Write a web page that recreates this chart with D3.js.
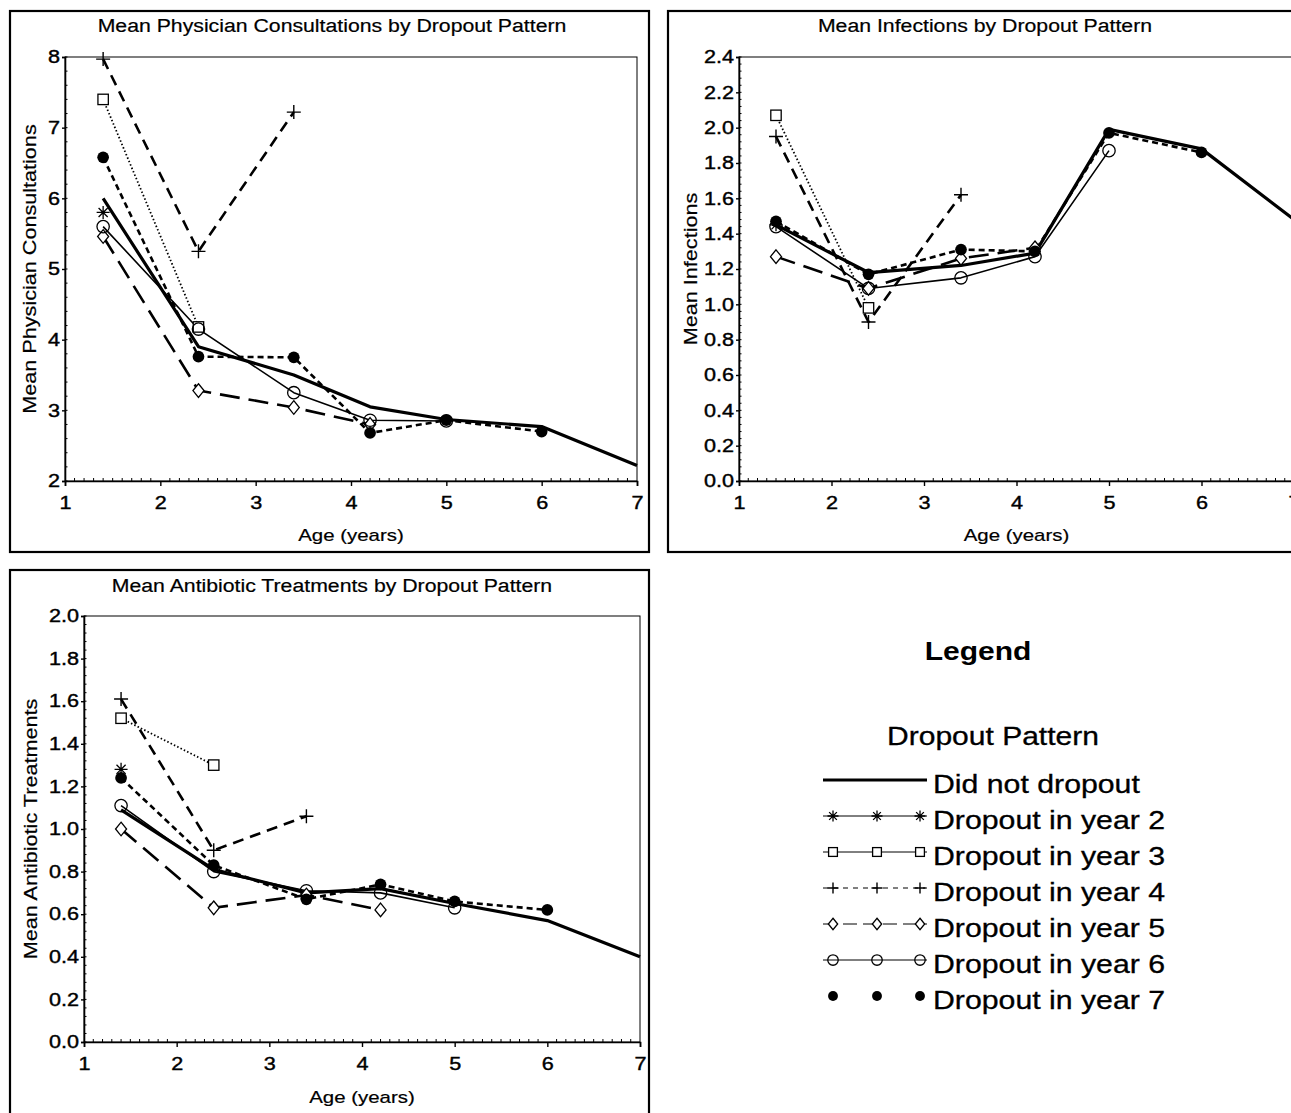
<!DOCTYPE html>
<html lang="en">
<head>
  <meta charset="UTF-8">
  <title>Means by Dropout Pattern</title>
  <script src="https://d3js.org/d3.v7.min.js"></script>
  <style>
    body { margin: 0; background: #fff; }
    svg { display: block; font-family: "Liberation Sans", Arial, sans-serif; }
    text { fill: #000; }
  </style>
</head>
<body>
  <div id="chart"></div>
  <script>
    // visit ages (years); a group that drops out in year k has k-1 visits
    const ages = [1.4, 2.4, 3.4, 4.2, 5, 6, 7];
    const patterns = ["Did not dropout", "Dropout in year 2", "Dropout in year 3",
      "Dropout in year 4", "Dropout in year 5", "Dropout in year 6", "Dropout in year 7"];

    const consultations = [
      [6.0, 3.9, 3.5, 3.05, 2.87, 2.77, 2.22],
      [5.8],
      [7.4, 4.18],
      [7.97, 5.25, 7.22],
      [5.46, 3.28, 3.04, 2.8],
      [5.6, 4.15, 3.25, 2.86, 2.85],
      [6.58, 3.76, 3.75, 2.68, 2.86, 2.7]
    ];
    const infections = [
      [1.45, 1.18, 1.22, 1.29, 1.99, 1.88, 1.48],
      [1.45],
      [2.07, 0.98],
      [1.95, 0.9, 1.62],
      [1.27, 1.09, 1.26, 1.32],
      [1.44, 1.09, 1.15, 1.27, 1.87],
      [1.47, 1.17, 1.31, 1.3, 1.97, 1.86]
    ];
    const antibiotics = [
      [1.09, 0.81, 0.7, 0.72, 0.65, 0.57, 0.4],
      [1.28],
      [1.52, 1.3],
      [1.61, 0.9, 1.06],
      [1.0, 0.63, 0.69, 0.62],
      [1.11, 0.8, 0.71, 0.7, 0.63],
      [1.24, 0.83, 0.67, 0.74, 0.66, 0.62]
    ];

    const xTicks = [1, 2, 3, 4, 5, 6, 7];
    const consultTicks = [2, 3, 4, 5, 6, 7, 8];
    const infectTicks = [0, 0.2, 0.4, 0.6, 0.8, 1.0, 1.2, 1.4, 1.6, 1.8, 2.0, 2.2, 2.4];
    const antibioticTicks = [0, 0.2, 0.4, 0.6, 0.8, 1.0, 1.2, 1.4, 1.6, 1.8, 2.0];

    const W = 1291, H = 1113;
    const K = 1.2; // glyphs in the scan are wider than Arial

    // line style + marker per dropout pattern
    const styles = [
      { dash: null, width: 3.2, marker: null },
      { dash: null, width: 1.2, marker: "asterisk" },
      { dash: "1.5,2.2", width: 1.8, marker: "square" },
      { dash: "11,7", width: 2.6, marker: "plus" },
      { dash: "20,9", width: 2.6, marker: "diamond" },
      { dash: null, width: 1.6, marker: "circle" },
      { dash: "6,4", width: 2.6, marker: "dot" }
    ];
    const legendStyles = [
      { dash: null, width: 3.2 },
      { dash: null, width: 1 },
      { dash: null, width: 1 },
      { dash: "5,5", width: 1 },
      { dash: "14,6", width: 1 },
      { dash: null, width: 1 },
      { dash: null, width: 0 }
    ];

    const svg = d3.select("#chart").append("svg")
      .attr("width", W)
      .attr("height", H);

    function stretch(sel, k) {
      sel.each(function () {
        const w = this.getComputedTextLength();
        this.setAttribute("textLength", w * k);
        this.setAttribute("lengthAdjust", "spacingAndGlyphs");
      });
    }

    function drawMarker(g, type, cx, cy, s) {
      const m = g.append("g").attr("transform", `translate(${cx},${cy})`)
        .attr("fill", "none").attr("stroke", "#000").attr("stroke-width", 1.3);
      if (type === "asterisk") {
        m.append("path").attr("d", `M${-s},0H${s}M0,${-s}V${s}M${-s * 0.7},${-s * 0.7}L${s * 0.7},${s * 0.7}M${-s * 0.7},${s * 0.7}L${s * 0.7},${-s * 0.7}`);
      } else if (type === "square") {
        m.append("rect").attr("x", -s * 0.8).attr("y", -s * 0.8).attr("width", s * 1.6).attr("height", s * 1.6).attr("fill", "#fff");
      } else if (type === "plus") {
        m.append("path").attr("d", `M${-s},0H${s}M0,${-s}V${s}`).attr("stroke-width", 1.4);
      } else if (type === "diamond") {
        m.append("path").attr("d", `M0,${-s * 1.05}L${s * 0.85},0L0,${s * 1.05}L${-s * 0.85},0Z`).attr("fill", "#fff");
      } else if (type === "circle") {
        m.append("circle").attr("r", s * 0.95).attr("fill", "none");
      } else if (type === "dot") {
        m.append("circle").attr("r", s * 0.9).attr("fill", "#000").attr("stroke", "none");
      }
    }

    const panels = [
      {
        title: "Mean Physician Consultations by Dropout Pattern",
        ylabel: "Mean Physician Consultations",
        values: consultations, yDomain: [2, 8], yTicks: consultTicks, fmt: d3.format("d"),
        frame: [10, 11, 639, 541], plot: [65, 637, 57, 481],
        titleX: 332, titleY: 32, ylabX: 36, xlabY: 541
      },
      {
        title: "Mean Infections by Dropout Pattern",
        ylabel: "Mean Infections",
        values: infections, yDomain: [0, 2.4], yTicks: infectTicks, fmt: d3.format(".1f"),
        frame: [668, 11, 640, 541], plot: [739, 1294, 57, 481],
        titleX: 985, titleY: 32, ylabX: 697, xlabY: 541
      },
      {
        title: "Mean Antibiotic Treatments by Dropout Pattern",
        ylabel: "Mean Antibiotic Treatments",
        values: antibiotics, yDomain: [0, 2], yTicks: antibioticTicks, fmt: d3.format(".1f"),
        frame: [10, 570, 639, 560], plot: [84, 640, 616, 1042],
        titleX: 332, titleY: 592, ylabX: 37, xlabY: 1103
      }
    ];

    panels.forEach(p => {
      const [l, r, t, b] = p.plot;
      const x = d3.scaleLinear().domain([1, 7]).range([l, r]);
      const y = d3.scaleLinear().domain(p.yDomain).range([b, t]);
      const g = svg.append("g");

      // outer frame
      g.append("rect")
        .attr("x", p.frame[0]).attr("y", p.frame[1])
        .attr("width", p.frame[2]).attr("height", p.frame[3])
        .attr("fill", "none").attr("stroke", "#000").attr("stroke-width", 2.2);

      // plot box
      g.append("rect")
        .attr("x", l).attr("y", t).attr("width", r - l).attr("height", b - t)
        .attr("fill", "none").attr("stroke", "#000").attr("stroke-width", 1);

      g.append("text")
        .attr("x", p.titleX).attr("y", p.titleY)
        .attr("text-anchor", "middle").attr("font-size", 18)
        .attr("stroke", "#000").attr("stroke-width", 0.2)
        .text(p.title).call(stretch, 1.18);

      // minor ticks
      const xMinor = d3.range(10, 71).map(d => d / 10).filter(d => d % 1 !== 0);
      g.append("g").selectAll("line").data(xMinor).join("line")
        .attr("x1", d => x(d)).attr("x2", d => x(d))
        .attr("y1", b).attr("y2", b - 3)
        .attr("stroke", "#000").attr("stroke-width", 1);
      const step = (p.yTicks[1] - p.yTicks[0]) / 5;
      const yMinor = d3.range(p.yDomain[0], p.yDomain[1] + step / 2, step);
      g.append("g").selectAll("line").data(yMinor).join("line")
        .attr("x1", l).attr("x2", l + 2.5)
        .attr("y1", d => y(d)).attr("y2", d => y(d))
        .attr("stroke", "#000").attr("stroke-width", 1);

      const xAxis = g.append("g")
        .attr("transform", `translate(0,${b})`)
        .call(d3.axisBottom(x).tickValues(xTicks).tickSize(5).tickPadding(10).tickFormat(d3.format("d")));
      const yAxis = g.append("g")
        .attr("transform", `translate(${l},0)`)
        .call(d3.axisLeft(y).tickValues(p.yTicks).tickSize(3).tickPadding(2).tickFormat(p.fmt));
      [xAxis, yAxis].forEach(a => {
        a.select(".domain").attr("stroke-width", 1.6);
        a.selectAll(".tick line").attr("stroke-width", 1.4);
        a.selectAll("text").attr("font-size", 18).attr("font-family", "Liberation Sans, Arial, sans-serif")
          .attr("fill", "#000").attr("stroke", "#000").attr("stroke-width", 0.4)
          .call(stretch, K);
      });

      g.append("text")
        .attr("x", (l + r) / 2).attr("y", p.xlabY)
        .attr("text-anchor", "middle").attr("font-size", 17)
        .attr("stroke", "#000").attr("stroke-width", 0.2)
        .text("Age (years)").call(stretch, K);

      g.append("text")
        .attr("transform", `translate(${p.ylabX},${(t + b) / 2}) rotate(-90)`)
        .attr("text-anchor", "middle").attr("font-size", 18)
        .attr("stroke", "#000").attr("stroke-width", 0.2)
        .text(p.ylabel).call(stretch, K);

      const line = d3.line().x(d => x(d[0])).y(d => y(d[1]));
      p.values.forEach((vals, i) => {
        const pts = vals.map((v, j) => [ages[j], v]);
        const st = styles[i];
        if (pts.length > 1) {
          g.append("path")
            .attr("d", line(pts))
            .attr("fill", "none").attr("stroke", "#000")
            .attr("stroke-width", st.width)
            .attr("stroke-dasharray", st.dash)
            .attr("stroke-linejoin", "round");
        }
      });
      p.values.forEach((vals, i) => {
        const st = styles[i];
        if (!st.marker) return;
        vals.forEach((v, j) => drawMarker(g, st.marker, x(ages[j]), y(v), st.marker === "plus" ? 7 : 6.5));
      });
    });

    // legend
    const lg = svg.append("g");
    lg.append("text").attr("x", 978).attr("y", 660)
      .attr("text-anchor", "middle").attr("font-size", 25).attr("font-weight", "bold")
      .text("Legend").call(stretch, 1.2);
    lg.append("text").attr("x", 993).attr("y", 745)
      .attr("text-anchor", "middle").attr("font-size", 25)
      .attr("stroke", "#000").attr("stroke-width", 0.3)
      .text("Dropout Pattern").call(stretch, K);

    patterns.forEach((name, i) => {
      const base = 793 + i * 36;
      const ly = base - 13;
      const ls = legendStyles[i];
      if (ls.width > 0) {
        lg.append("line")
          .attr("x1", 823).attr("x2", 927).attr("y1", ly).attr("y2", ly)
          .attr("stroke", "#000").attr("stroke-width", ls.width)
          .attr("stroke-dasharray", ls.dash);
      }
      const mk = styles[i].marker;
      if (mk) [833, 877, 920].forEach(mx => drawMarker(lg, mk, mx, ly, 5.5));
      lg.append("text").attr("x", 933).attr("y", base)
        .attr("font-size", 25)
        .attr("stroke", "#000").attr("stroke-width", 0.3)
        .text(name).call(stretch, 1.21);
    });
  </script>
</body>
</html>
